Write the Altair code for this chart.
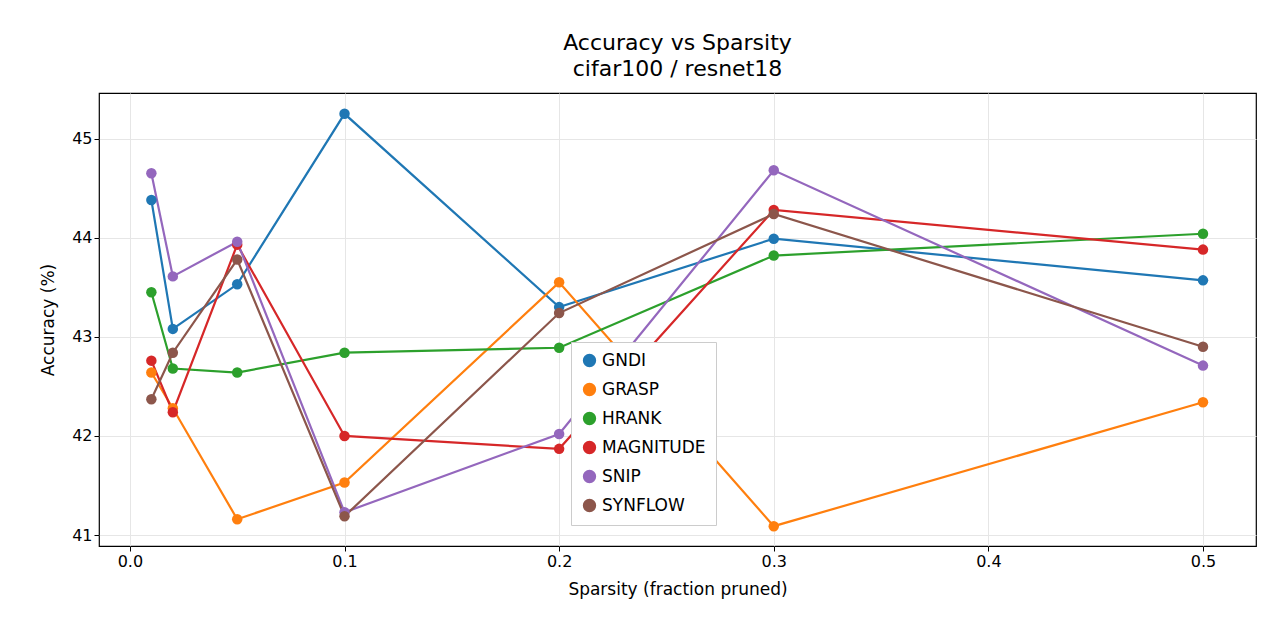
import altair as alt
import pandas as pd

sparsity = [0.01, 0.02, 0.05, 0.1, 0.2, 0.3, 0.5]
methods = ["GNDI", "GRASP", "HRANK", "MAGNITUDE", "SNIP", "SYNFLOW"]
colors = ["#1f77b4", "#ff7f0e", "#2ca02c", "#d62728", "#9467bd", "#8c564b"]

gndi = [44.38, 43.08, 43.53, 45.25, 43.30, 43.99, 43.57]
grasp = [42.64, 42.28, 41.16, 41.53, 43.55, 41.09, 42.34]
hrank = [43.45, 42.68, 42.64, 42.84, 42.89, 43.82, 44.04]
magnitude = [42.76, 42.24, 43.93, 42.00, 41.87, 44.28, 43.88]
snip = [44.65, 43.61, 43.96, 41.23, 42.02, 44.68, 42.71]
synflow = [42.37, 42.84, 43.78, 41.19, 43.24, 44.24, 42.90]

series = [gndi, grasp, hrank, magnitude, snip, synflow]
rows = []
for m, vals in zip(methods, series):
    for s, v in zip(sparsity, vals):
        rows.append({"method": m, "sparsity": s, "accuracy": v})
df = pd.DataFrame(rows)

font = "DejaVu Sans"
color = alt.Color(
    "method:N",
    scale=alt.Scale(domain=methods, range=colors),
    legend=alt.Legend(
        title=None, orient="none", legendX=472, legendY=249,
        labelFontSize=17, labelFont=font, symbolSize=140, symbolType="circle",
        padding=10, strokeColor="#cccccc", fillColor="white", rowPadding=10,
        labelLimit=300,
    ),
)

x = alt.X(
    "sparsity:Q", title="Sparsity (fraction pruned)",
    scale=alt.Scale(domain=[-0.0144, 0.5247], nice=False, zero=False),
    axis=alt.Axis(values=[0, 0.1, 0.2, 0.3, 0.4, 0.5], format=".1f", titlePadding=12),
)
y = alt.Y(
    "accuracy:Q", title="Accuracy (%)",
    scale=alt.Scale(domain=[40.89, 45.46], nice=False, zero=False),
    axis=alt.Axis(values=[41, 42, 43, 44, 45], format="d", titlePadding=14),
)

base = alt.Chart(df).encode(x=x, y=y, color=color, detail="method:N")
lines = base.mark_line(strokeWidth=2.2)
points = base.mark_circle(size=110, opacity=1)

chart = (
    (lines + points)
    .properties(
        width=1157, height=453,
        autosize=alt.AutoSizeParams(type="none"),
        padding={"left": 91, "top": 85, "right": 16, "bottom": 86},
        title=alt.Title(["Accuracy vs Sparsity", "cifar100 / resnet18"],
                        fontSize=22, font=font, fontWeight="normal", offset=12,
                        lineHeight=26),
    )
    .configure_view(stroke="black", strokeWidth=1.2)
    .configure_axis(
        labelFont=font, titleFont=font, labelFontSize=16, titleFontSize=17,
        titleFontWeight="normal", gridColor="#e6e6e6", tickColor="black",
        domain=False, labelColor="black", titleColor="black", tickSize=5,
    )
)

chart.save("out.html", embed_options={"renderer": "svg", "actions": False})
